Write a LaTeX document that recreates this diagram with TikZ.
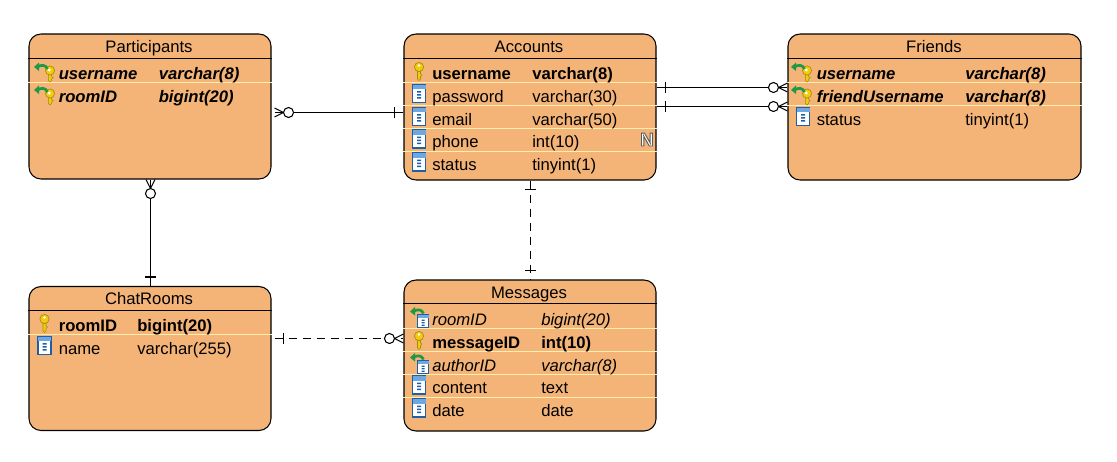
\documentclass[tikz,border=0pt]{standalone}
\usepackage{fontspec}
\setmainfont{Liberation Sans}
\newfontface\nullface[FakeBold=5]{Liberation Sans Bold}
\usepackage{xcolor}
\usetikzlibrary{decorations.markings}
\definecolor{entityfill}{HTML}{F4B478}
\definecolor{rowsep}{HTML}{FFF0B0}
\definecolor{keyfill}{HTML}{F2CB0F}
\definecolor{keyedge}{HTML}{A58A10}
\definecolor{colblue}{HTML}{1F5FA8}
\definecolor{colhead}{HTML}{6FA8E0}
\definecolor{fkgreen}{HTML}{1E9A46}
\tikzset{
    entity/.style={draw=black, fill=entityfill, rounded corners=9pt, line width=0.8pt, inner sep=0pt},
    entitytitle/.style={anchor=base, inner sep=0pt, font=\fontsize{12.5}{15}\selectfont},
    field/.style={anchor=base west, inner sep=0pt, font=\fontsize{12.5}{15}\selectfont},
    pkfield/.style={field, font=\fontsize{12.5}{15}\selectfont\bfseries},
    fkfield/.style={field, font=\fontsize{12.5}{15}\selectfont\itshape},
    pffield/.style={field, font=\fontsize{12.5}{15}\selectfont\bfseries\itshape},
    headline/.style={draw=black, line width=0.75pt},
    rowline/.style={draw=rowsep, line width=0.75pt},
    relation/.style={line width=0.8pt},
    onebar/.style={postaction={decorate, decoration={markings,
        mark=at position 6.75pt with {\draw[solid] (0,-5.5) -- (0,5.5);}}}},
    onebarend/.style={postaction={decorate, decoration={markings,
        mark=at position -6.75pt with {\draw[solid] (0,-5.5) -- (0,5.5);}}}},
    zeromany/.style={postaction={decorate, decoration={markings,
        mark=at position 1 with {\draw[solid, fill=white] (-14,0) circle (5);
            \draw[solid] (-9,0) -- (0,-4.5) (-9,0) -- (0,4.5);}}}},
    keyicon/.pic={
        \fill[keyfill, draw=keyedge, line width=0.4pt] (-1.5,3) -- (1.5,3) -- (1.5,7) -- (3,8) -- (1.5,9.5) -- (1.5,12) -- (0,13.5) -- (-1.5,12) -- cycle;
        \fill[keyfill, draw=keyedge, line width=0.5pt] (0,0) circle (4.6);
        \fill[white] (0,-1.5) circle (1.3);
    },
    colicon/.pic={
        \fill[white, draw=colblue, line width=0.9pt] (-6.5,-9) rectangle (6.5,9);
        \fill[colhead] (-6.5,-9) rectangle (6.5,-4.5);
        \fill[colblue] (-2,-2.5) rectangle (2,-0.8) (-2,0.5) rectangle (2,2.2) (-2,3.5) rectangle (2,5.2);
    },
    fkarrow/.pic={
        \draw[fkgreen, line width=2pt] (-4,1) .. controls (0,-1.5) and (4,-1.5) .. (6,3);
        \fill[fkgreen] (-7.5,1) -- (-2.5,-3.5) -- (-2.5,5) -- cycle;
    },
    fkkeyicon/.pic={
        \fill[keyfill, draw=keyedge, line width=0.4pt] (-1.6,3) -- (1.6,3) -- (1.6,6) -- (3.2,7) -- (1.6,8.5) -- (1.6,10) -- (0,11.5) -- (-1.6,10) -- cycle;
        \fill[keyfill, draw=keyedge, line width=0.5pt] (0,0) circle (4.6);
        \fill[white] (-0.8,-0.5) circle (1.6);
        \pic at (-8.5,-4.5) {fkarrow};
    },
    fkcolicon/.pic={
        \fill[white, draw=colblue, line width=0.6pt] (-5.5,-6) rectangle (5.5,6.5);
        \fill[colhead] (-5.5,-6) rectangle (5.5,-2.5);
        \fill[colblue] (-1.5,-1) rectangle (1.5,0.3) (-1.5,1.5) rectangle (1.5,2.8) (-1.5,4) rectangle (1.5,5.3);
        \pic at (-5.5,-10) {fkarrow};
    }
}
\begin{document}
\begin{tikzpicture}[x=0.75pt, y=-0.75pt]
    \useasboundingbox (0,0) rectangle (1117,461);

    % tables
    \node[entity, minimum width=181.5pt, minimum height=108.75pt] (Participants) at (150,106.5) {};
    \node[entity, minimum width=189pt, minimum height=109.5pt] (Accounts) at (530,107) {};
    \node[entity, minimum width=219.75pt, minimum height=109.5pt] (Friends) at (934.5,107) {};
    \node[entity, minimum width=181.5pt, minimum height=108pt] (ChatRooms) at (150,358.5) {};
    \node[entity, minimum width=189pt, minimum height=113.25pt] (Messages) at (530,355.5) {};

    % title bars and row lines
    \node[entitytitle] (ParticipantsTitle) at (149,52) {Participants};
    \draw[headline] (Participants.west |- 0,58) -- (Participants.east |- 0,58);
    \draw[rowline] (Participants.west |- 0,82) -- (Participants.east |- 0,82);

    \node[entitytitle] (AccountsTitle) at (529,52) {Accounts};
    \draw[headline] (Accounts.west |- 0,58) -- (Accounts.east |- 0,58);
    \draw[rowline] (Accounts.west |- 0,82) -- (Accounts.east |- 0,82);
    \draw[rowline] (Accounts.west |- 0,105) -- (Accounts.east |- 0,105);
    \draw[rowline] (Accounts.west |- 0,128.5) -- (Accounts.east |- 0,128.5);
    \draw[rowline] (Accounts.west |- 0,151.5) -- (Accounts.east |- 0,151.5);

    \node[entitytitle] (FriendsTitle) at (934,52) {Friends};
    \draw[headline] (Friends.west |- 0,58) -- (Friends.east |- 0,58);
    \draw[rowline] (Friends.west |- 0,82) -- (Friends.east |- 0,82);
    \draw[rowline] (Friends.west |- 0,105) -- (Friends.east |- 0,105);

    \node[entitytitle] (ChatRoomsTitle) at (149,304) {ChatRooms};
    \draw[headline] (ChatRooms.west |- 0,310) -- (ChatRooms.east |- 0,310);
    \draw[rowline] (ChatRooms.west |- 0,334.5) -- (ChatRooms.east |- 0,334.5);

    \node[entitytitle] (MessagesTitle) at (529,298) {Messages};
    \draw[headline] (Messages.west |- 0,303.5) -- (Messages.east |- 0,303.5);
    \draw[rowline] (Messages.west |- 0,328) -- (Messages.east |- 0,328);
    \draw[rowline] (Messages.west |- 0,351) -- (Messages.east |- 0,351);
    \draw[rowline] (Messages.west |- 0,374) -- (Messages.east |- 0,374);
    \draw[rowline] (Messages.west |- 0,397.5) -- (Messages.east |- 0,397.5);

    % Participants rows
    \pic at (50,70.5) {fkkeyicon};
    \node[pffield] (partUser) at (58.5,79) {username};
    \node[pffield] (partUserType) at (158.5,79) {varchar(8)};
    \pic at (50,93.5) {fkkeyicon};
    \node[pffield] (partRoom) at (58.5,102) {roomID};
    \node[pffield] (partRoomType) at (158.5,102) {bigint(20)};

    % Accounts rows
    \pic at (419,67) {keyicon};
    \node[pkfield] (accUser) at (432,79) {username};
    \node[pkfield] (accUserType) at (532,79) {varchar(8)};
    \pic at (419,93.5) {colicon};
    \node[field] (accPass) at (432,102) {password};
    \node[field] (accPassType) at (532,102) {varchar(30)};
    \pic at (419,116.5) {colicon};
    \node[field] (accMail) at (432,125) {email};
    \node[field] (accMailType) at (532,125) {varchar(50)};
    \pic at (419,139) {colicon};
    \node[field] (accPhone) at (432,147) {phone};
    \node[field] (accPhoneType) at (532,147) {int(10)};
    \node[anchor=base, inner sep=0pt] (accPhoneNull) at (647,146)
        {\fontsize{14}{15}\nullface\special{pdf:bcolor [1 1 1] [0.35 0.35 0.35]}N\special{pdf:ecolor}};
    \pic at (419,162) {colicon};
    \node[field] (accStatus) at (432,170) {status};
    \node[field] (accStatusType) at (532,170) {tinyint(1)};

    % Friends rows
    \pic at (807,70.5) {fkkeyicon};
    \node[pffield] (friUser) at (816.5,79) {username};
    \node[pffield] (friUserType) at (965,79) {varchar(8)};
    \pic at (807,93.5) {fkkeyicon};
    \node[pffield] (friOther) at (816.5,102) {friendUsername};
    \node[pffield] (friOtherType) at (965,102) {varchar(8)};
    \pic at (803,116.5) {colicon};
    \node[field] (friStatus) at (816.5,125) {status};
    \node[field] (friStatusType) at (965,125) {tinyint(1)};

    % ChatRooms rows
    \pic at (44.5,319) {keyicon};
    \node[pkfield] (chatRoom) at (58.5,331.5) {roomID};
    \node[pkfield] (chatRoomType) at (137,331.5) {bigint(20)};
    \pic at (44.5,345.5) {colicon};
    \node[field] (chatName) at (58.5,354) {name};
    \node[field] (chatNameType) at (137,354) {varchar(255)};

    % Messages rows
    \pic at (423,320.5) {fkcolicon};
    \node[fkfield] (msgRoom) at (432,325) {roomID};
    \node[fkfield] (msgRoomType) at (541,325) {bigint(20)};
    \pic at (419,336) {keyicon};
    \node[pkfield] (msgId) at (432,348) {messageID};
    \node[pkfield] (msgIdType) at (541,348) {int(10)};
    \pic at (423,366.5) {fkcolicon};
    \node[fkfield] (msgAuthor) at (432,371) {authorID};
    \node[fkfield] (msgAuthorType) at (541,371) {varchar(8)};
    \pic at (419,385) {colicon};
    \node[field] (msgContent) at (432,393) {content};
    \node[field] (msgContentType) at (541,393) {text};
    \pic at (419,408) {colicon};
    \node[field] (msgDate) at (432,416) {date};
    \node[field] (msgDateType) at (541,416) {date};

    % relations
    \draw[relation, onebar, zeromany] ([shift={(0,5.5)}]Accounts.west) -- ([shift={(3,6)}]Participants.east);
    \draw[relation, onebar, zeromany] ([shift={(0,-19.5)}]Accounts.east) -- ([shift={(0,-19.5)}]Friends.west);
    \draw[relation, onebar, zeromany] ([shift={(0,-0.5)}]Accounts.east) -- ([shift={(0,-0.5)}]Friends.west);
    \draw[relation, onebar, zeromany] ([shift={(0.5,0)}]ChatRooms.north) -- ([shift={(0.5,0)}]Participants.south);
    \draw[relation, dashed, dash pattern=on 6pt off 4.5pt, onebar, zeromany] ([shift={(3,-20)}]ChatRooms.east) -- ([shift={(0,-17)}]Messages.west);
    \draw[relation, dashed, dash pattern=on 6pt off 4.5pt, onebar, onebarend] ([shift={(0.5,0)}]Accounts.south) -- ([shift={(0.5,0)}]Messages.north);
\end{tikzpicture}
\end{document}
